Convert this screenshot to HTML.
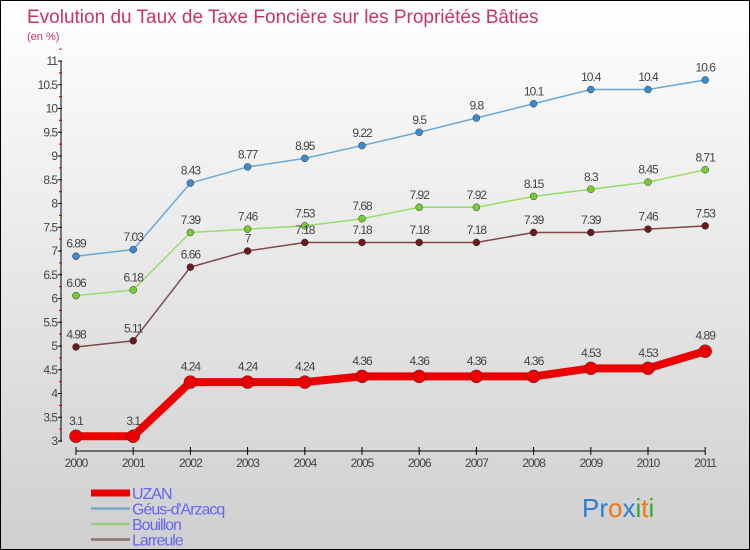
<!DOCTYPE html>
<html><head><meta charset="utf-8"><style>
body{margin:0}
#c{width:748px;height:548px;border:1px solid #000;background:linear-gradient(#ffffff,#cfcfcf);position:relative;font-family:"Liberation Sans",sans-serif;overflow:hidden}
svg text{font-family:"Liberation Sans",sans-serif}
</style></head><body>
<div id="c">
<svg id="s" width="748" height="548">
<text x="26" y="22" font-size="19" fill="#c8336b">Evolution du Taux de Taxe Foncière sur les Propriétés Bâties</text>
<text x="26" y="39" font-size="11" fill="#c8336b">(en %)</text>
</svg>
</div>
<script>
const years=[2000,2001,2002,2003,2004,2005,2006,2007,2008,2009,2010,2011];
const uzan=[3.1,3.1,4.24,4.24,4.24,4.36,4.36,4.36,4.36,4.53,4.53,4.89];
const geus=[6.89,7.03,8.43,8.77,8.95,9.22,9.5,9.8,10.1,10.4,10.4,10.6];
const bouillon=[6.06,6.18,7.39,7.46,7.53,7.68,7.92,7.92,8.15,8.3,8.45,8.71];
const larreule=[4.98,5.11,6.66,7,7.18,7.18,7.18,7.18,7.39,7.39,7.46,7.53];
const yTicks=[3,3.5,4,4.5,5,5.5,6,6.5,7,7.5,8,8.5,9,9.5,10,10.5,11];
const NS="http://www.w3.org/2000/svg",s=document.getElementById('s');
const X=i=>75+i*57.2, Y=v=>440-(v-3)*47.5;
function el(t,a,p){const e=document.createElementNS(NS,t);for(const k in a)e.setAttribute(k,a[k]);(p||s).appendChild(e);return e;}
let ya=el('line',{x1:60,y1:60,x2:60,y2:441,stroke:'#000'});


yTicks.forEach((v,k)=>{
 el('line',{x1:57,x2:61,y1:Y(v),y2:Y(v),stroke:'#000'});
 if(k<yTicks.length-1){
  el('line',{x1:58,x2:61,y1:Y(v)-11.9,y2:Y(v)-11.9,stroke:'#e00'});
  el('line',{x1:58,x2:61,y1:Y(v)-35.6,y2:Y(v)-35.6,stroke:'#e00'});
 }
 let t=el('text',{x:56,y:Y(v)+4,'font-size':12,fill:'#444','text-anchor':'end','letter-spacing':'-1'});t.textContent=v;
 
 
});
let xa=el('line',{x1:X(0),y1:450,x2:X(11),y2:450,stroke:'#000'});


years.forEach((y,i)=>{
 el('line',{x1:X(i),x2:X(i),y1:446,y2:454,stroke:'#000'});
 let t=el('text',{x:X(i),y:466,'font-size':12,fill:'#444','text-anchor':'middle','letter-spacing':'-1'});t.textContent=y;
 
 
});
function series(d,col,w,r,name,dot){
 const g=el('g',{});
 
 
 el('polyline',{points:d.map((v,i)=>X(i)+','+Y(v)).join(' '),fill:'none',stroke:col,'stroke-width':w,'stroke-linejoin':'round'},g);
 d.forEach((v,i)=>{
  let c=el('circle',{cx:X(i),cy:Y(v),r:r,fill:dot,stroke:'#333','stroke-width':0.5},g);
  
  
  let t=el('text',{x:X(i),y:Y(v)-r-5,'font-size':12,fill:'#444','text-anchor':'middle','letter-spacing':'-1'},g);t.textContent=v;
  
  
 });
}
series(geus,'#6aa8d8',1.5,3.5,'geus','#3c8ad0');
series(bouillon,'#99dd66',1.5,3.5,'bouillon','#77cc33');
series(larreule,'#804848',1.5,3.5,'larreule','#6a1a1a');
series(uzan,'#ee0000',8,6.5,'uzan','#ee0000');
const leg=[['UZAN','#ee0000',7],["Géus-d'Arzacq",'#79a8c8',2.5],['Bouillon','#99cc77',2.5],['Larreule','#907070',2.5]];
leg.forEach((l,i)=>{
 const y=492+i*15.5;
 const g=el('g',{});
 
 
 el('line',{x1:90,x2:129,y1:y,y2:y,stroke:l[1],'stroke-width':l[2]},g);
 let t=el('text',{x:131,y:y+6,'font-size':16,fill:'#6666ee','letter-spacing':'-1'},g);t.textContent=l[0];
});
const lg=el('text',{x:581,y:516,'font-size':26});


[['Pr','#2a7fd0'],['o','#ee7711'],['x','#2a7fd0'],['i','#33aa33'],['t','#ee7711'],['i','#33aa33']].forEach(p=>{el('tspan',{fill:p[1]},lg).textContent=p[0];});
</script>
</body></html>
